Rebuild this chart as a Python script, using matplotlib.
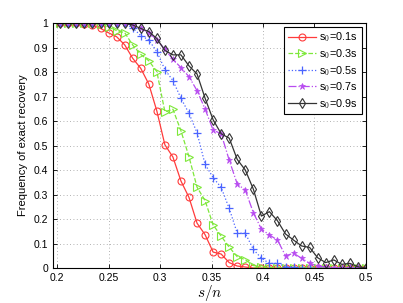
import numpy as np
import matplotlib.pyplot as plt

plt.rcParams['font.family'] = ['Liberation Sans', 'DejaVu Sans']
plt.rcParams['mathtext.fontset'] = 'cm'

# sparsity ratio s/n, n = 128
s_vals = np.arange(26, 65)
ratio = s_vals / 128.0

freq_01 = [1, 1, 1, 0.998, 0.99, 0.978, 0.96, 0.944, 0.911, 0.856, 0.815, 0.751, 0.641,
           0.503, 0.453, 0.355, 0.288, 0.183, 0.136, 0.065, 0.057, 0.022, 0.008, 0.004,
           0, 0, 0, 0, 0, 0, 0, 0, 0, 0, 0, 0, 0, 0, 0]
freq_03 = [1, 1, 1, 1, 1, 0.995, 0.985, 0.969, 0.961, 0.91, 0.872, 0.846, 0.802,
           0.638, 0.648, 0.56, 0.454, 0.33, 0.275, 0.176, 0.13, 0.085, 0.046, 0.034,
           0.01, 0.004, 0, 0, 0, 0, 0, 0, 0, 0, 0, 0, 0, 0, 0]
freq_05 = [1, 1, 1, 1, 1, 1, 1, 1, 0.999, 0.98, 0.949, 0.931, 0.883,
           0.81, 0.765, 0.693, 0.631, 0.552, 0.423, 0.369, 0.329, 0.243, 0.142, 0.142,
           0.076, 0.04, 0.019, 0.019, 0.006, 0.004, 0, 0, 0, 0, 0, 0, 0, 0, 0]
freq_07 = [1, 1, 1, 1, 1, 1, 1, 1, 1, 0.99, 0.978, 0.961, 0.931,
           0.893, 0.852, 0.818, 0.781, 0.724, 0.649, 0.563, 0.548, 0.44, 0.343, 0.318,
           0.226, 0.159, 0.135, 0.114, 0.05, 0.06, 0.04, 0.019, 0.008, 0.004, 0, 0, 0, 0, 0]
freq_09 = [1, 1, 1, 1, 1, 1, 1, 1, 1, 0.992, 0.978, 0.965, 0.937,
           0.888, 0.87, 0.87, 0.825, 0.792, 0.693, 0.605, 0.548, 0.53, 0.443, 0.40,
           0.322, 0.212, 0.23, 0.193, 0.139, 0.114, 0.09, 0.084, 0.042, 0.022, 0.033,
           0.015, 0.019, 0.005, 0]

labels = ['s$_0$=0.1s', 's$_0$=0.3s', 's$_0$=0.5s', 's$_0$=0.7s', 's$_0$=0.9s']

fig = plt.figure(figsize=(4.03, 3.03), dpi=100)
ax = fig.add_axes([0.1315, 0.1155, 0.7765, 0.8085])

ax.plot(ratio, freq_01, '-', color='#ff3b3b', lw=0.9, marker='o', ms=5,
        mfc='none', mec='#ff3b3b', mew=0.8, label=labels[0])
ax.plot(ratio, freq_03, '--', color='#7ee83a', lw=0.9, marker='>', ms=5.5,
        mfc='none', mec='#7ee83a', mew=0.8, label=labels[1])
ax.plot(ratio, freq_05, ':', color='#4a64ff', lw=0.9, marker='+', ms=6,
        mec='#4a64ff', mew=0.9, label=labels[2])
ax.plot(ratio, freq_07, '-.', color='#b84cf0', lw=0.9, marker='*', ms=5,
        mfc='#b84cf0', mec='#b84cf0', mew=0.5, label=labels[3])
ax.plot(ratio, freq_09, '-', color='#333333', lw=0.9, marker='d', ms=5.5,
        mfc='none', mec='#333333', mew=0.8, label=labels[4])

ax.set_xlim(0.196, 0.5)
ax.set_ylim(0, 1)
ax.set_xticks(np.arange(0.2, 0.501, 0.05))
ax.set_xticklabels(['0.2', '0.25', '0.3', '0.35', '0.4', '0.45', '0.5'])
ax.set_yticks(np.arange(0, 1.01, 0.1))
ax.set_yticklabels(['0', '0.1', '0.2', '0.3', '0.4', '0.5', '0.6', '0.7', '0.8', '0.9', '1'])
ax.tick_params(direction='in', top=True, right=True, labelsize=7.5, length=3, width=0.6)
ax.grid(True, linestyle=(0, (1, 3)), color='#999999', lw=0.6)
for sp in ax.spines.values():
    sp.set_linewidth(0.8)

ax.set_xlabel('$s/n$', fontsize=11, labelpad=0)
ax.set_ylabel('Frequency of exact recovery', fontsize=8)

leg = ax.legend(loc='upper right', fontsize=7.8, fancybox=False, framealpha=1,
                edgecolor='black', borderaxespad=0.35, handlelength=2.6,
                handletextpad=0.3, labelspacing=0.25, borderpad=0.35)
leg.get_frame().set_linewidth(0.8)

fig.savefig('out.png', dpi=100)
